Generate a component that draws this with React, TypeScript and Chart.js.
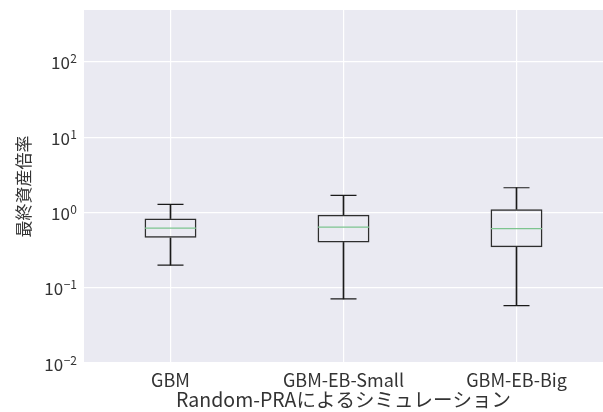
import React, { useEffect, useRef } from "react";
import { Chart, registerables } from "chart.js";

Chart.register(...registerables);

const categories = ["GBM", "GBM-EB-Small", "GBM-EB-Big"];
const whiskerLow = [0.2, 0.071, 0.058];
const q1 = [0.46, 0.4, 0.344];
const median = [0.62, 0.64, 0.61];
const q3 = [0.83, 0.93, 1.1];
const whiskerHigh = [1.28, 1.69, 2.13];
const yTicks = [0.01, 0.1, 1, 10, 100];
const yTickBase = ["10", "10", "10", "10", "10"];
const yTickExp = ["−2", "−1", "0", "1", "2"];
const yMin = 0.01;
const yMax = 490;
const xTitle = "Random-PRAによるシミュレーション";
const yTitle = "最終資産倍率";

const FONT = "'Noto Sans CJK JP', 'DejaVu Sans', sans-serif";

const bgPlugin = {
  id: "plotBg",
  beforeDraw(chart: any) {
    const { ctx, chartArea } = chart;
    ctx.save();
    ctx.fillStyle = "#EAEAF2";
    ctx.fillRect(chartArea.left, chartArea.top, chartArea.right - chartArea.left, chartArea.bottom - chartArea.top);
    ctx.restore();
  },
};

const yLabelPlugin = {
  id: "yLabels",
  afterDraw(chart: any) {
    const { ctx } = chart;
    const scale = chart.scales.y;
    const right = scale.right - 7;
    ctx.save();
    ctx.fillStyle = "#333333";
    ctx.textBaseline = "alphabetic";
    yTicks.forEach((v, i) => {
      const py = scale.getPixelForValue(v);
      ctx.font = `12px ${FONT}`;
      const ew = ctx.measureText(yTickExp[i]).width;
      ctx.textAlign = "right";
      ctx.fillText(yTickExp[i], right, py + 1.5);
      ctx.font = `17px ${FONT}`;
      ctx.fillText(yTickBase[i], right - ew - 0.5, py + 7.5);
    });
    ctx.restore();
  },
};

export default function App() {
  const ref = useRef<HTMLCanvasElement>(null);
  useEffect(() => {
    document.body.style.margin = "0";
    const chart = new Chart(ref.current as HTMLCanvasElement, {
      type: "bar",
      data: {
        labels: categories,
        datasets: [
          {
            type: "bar",
            data: categories.map((_, i) => [whiskerLow[i], q1[i]]),
            backgroundColor: "#1a1a1a",
            borderWidth: 0,
            barThickness: 1,
            grouped: false,
            order: 3,
          } as any,
          {
            type: "bar",
            data: categories.map((_, i) => [q3[i], whiskerHigh[i]]),
            backgroundColor: "#1a1a1a",
            borderWidth: 0,
            barThickness: 1,
            grouped: false,
            order: 3,
          } as any,
          {
            type: "bar",
            data: categories.map((_, i) => [q1[i], q3[i]]),
            backgroundColor: "rgba(0,0,0,0)",
            borderColor: "#2e2e2e",
            borderWidth: 1.5,
            borderSkipped: false,
            categoryPercentage: 1,
            barPercentage: 0.3,
            grouped: false,
            order: 2,
          } as any,
          {
            type: "line",
            data: whiskerLow,
            showLine: false,
            pointStyle: "line",
            pointRadius: 13,
            pointBorderWidth: 1.2,
            pointBorderColor: "#1a1a1a",
            order: 1,
          } as any,
          {
            type: "line",
            data: whiskerHigh,
            showLine: false,
            pointStyle: "line",
            pointRadius: 13,
            pointBorderWidth: 1.2,
            pointBorderColor: "#1a1a1a",
            order: 1,
          } as any,
          {
            type: "line",
            data: median,
            showLine: false,
            pointStyle: "line",
            pointRadius: 25.5,
            pointBorderWidth: 1.2,
            pointBorderColor: "#7DC48F",
            order: 0,
          } as any,
        ],
      },
      options: {
        animation: false,
        responsive: false,
        layout: { autoPadding: false, padding: { top: 10, right: 0, left: 0, bottom: 0 } },
        plugins: { legend: { display: false }, tooltip: { enabled: false } },
        scales: {
          x: {
            type: "category",
            offset: true,
            afterFit: (scale: any) => {
              scale.height = 49;
            },
            grid: { color: "#FFFFFF", lineWidth: 1.2, offset: false, drawTicks: false },
            border: { display: false },
            ticks: { color: "#333333", font: { family: FONT, size: 18, lineHeight: 1.1 }, padding: 7, maxRotation: 0 },
            title: { display: true, text: xTitle, color: "#333333", font: { family: FONT, size: 19.5, lineHeight: 1.1 }, padding: { top: 0, bottom: 2 } },
          },
          y: {
            type: "logarithmic",
            min: yMin,
            max: yMax,
            afterBuildTicks: (scale: any) => {
              scale.ticks = yTicks.map((v) => ({ value: v }));
            },
            afterFit: (scale: any) => {
              scale.width = 84;
            },
            grid: { color: "#FFFFFF", lineWidth: 1.2, drawTicks: false },
            border: { display: false },
            ticks: { display: false },
            title: { display: true, text: yTitle, color: "#333333", font: { family: FONT, size: 17 }, padding: { top: 13, bottom: 0 } },
          },
        },
      } as any,
      plugins: [bgPlugin, yLabelPlugin],
    });
    return () => chart.destroy();
  }, []);
  return <canvas ref={ref} width={603} height={412} style={{ display: "block" }} />;
}
